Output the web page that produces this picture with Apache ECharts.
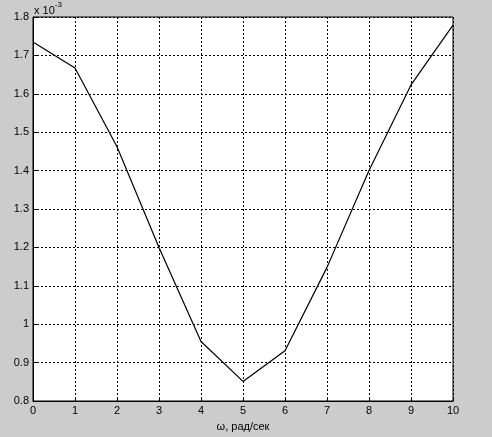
<!DOCTYPE html>
<html>
<head>
<meta charset="utf-8">
<script src="https://cdn.jsdelivr.net/npm/echarts@6/dist/echarts.min.js"></script>
<style>
html,body{margin:0;padding:0;background:#cccccc;}
#c{width:492px;height:437px;}
</style>
</head>
<body>
<div id="c"></div>
<script>
var omega = [0, 1, 2, 3, 4, 5, 6, 7, 8, 9, 10];
var values = [1.735, 1.667, 1.462, 1.2, 0.955, 0.851, 0.931, 1.148, 1.4, 1.623, 1.779];
var xTicks = [0, 10, 1];
var yTicks = [0.8, 1.8, 0.1];
var xLabel = 'ω, рад/сек';
var scaleMain = 'x 10';
var scaleExp = '-3';

var chart = echarts.init(document.getElementById('c'), null, {renderer: 'canvas'});
var font = 'Liberation Sans, Arial, sans-serif';
chart.setOption({
  backgroundColor: '#cccccc',
  animation: false,
  grid: {left: 33, top: 17, right: 39, bottom: 35, show: true, backgroundColor: '#ffffff', borderColor: '#000000', borderWidth: 1},
  xAxis: {
    type: 'value', min: xTicks[0], max: xTicks[1], interval: xTicks[2],
    name: xLabel, nameLocation: 'middle', nameGap: 20,
    nameTextStyle: {fontFamily: font, fontSize: 11, color: '#000'},
    axisLine: {show: true, onZero: false, lineStyle: {color: '#000', width: 1}},
    axisTick: {show: true, inside: true, length: 4, lineStyle: {color: '#000'}},
    axisLabel: {fontFamily: font, fontSize: 11, color: '#000', margin: 4},
    splitLine: {show: true, lineStyle: {color: '#000', width: 1, type: [2, 2]}}
  },
  yAxis: {
    type: 'value', min: yTicks[0], max: yTicks[1], interval: yTicks[2],
    axisLine: {show: true, onZero: false, lineStyle: {color: '#000', width: 1}},
    axisTick: {show: true, inside: true, length: 4, lineStyle: {color: '#000'}},
    axisLabel: {fontFamily: font, fontSize: 11, color: '#000', margin: 4,
      formatter: function(v){ return String(Math.round(v*10)/10); }},
    splitLine: {show: true, lineStyle: {color: '#000', width: 1, type: [2, 2]}}
  },
  graphic: [{
    type: 'text', left: 34, top: 1,
    style: {
      text: '{a|' + scaleMain + '}{b|' + scaleExp + '}',
      rich: {
        a: {fontFamily: font, fontSize: 11, fill: '#000', verticalAlign: 'bottom', padding: [4, 0, 0, 0]},
        b: {fontFamily: font, fontSize: 8, fill: '#000', verticalAlign: 'top'}
      }
    }
  }],
  series: [{
    type: 'line',
    data: omega.map(function(x, i){ return [x, values[i]]; }),
    showSymbol: false,
    lineStyle: {color: '#000', width: 1.2},
    silent: true
  }]
});
</script>
</body>
</html>
